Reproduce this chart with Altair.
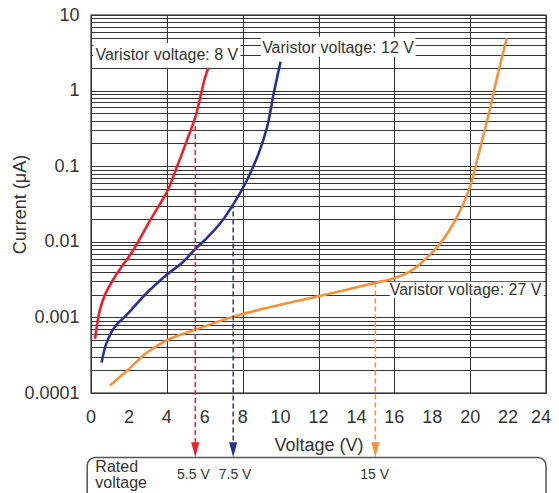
import altair as alt
import pandas as pd

# ---- data ----
red_v = [0.21, 0.47, 0.74, 1.18, 1.62, 2.06, 2.5, 3.13, 4.01, 4.54, 5.07, 5.51, 5.77, 6.03, 6.25]
red_i = [0.00052, 0.00126, 0.0020, 0.0032, 0.0047, 0.0067, 0.0101, 0.0195, 0.046, 0.099, 0.223, 0.453, 0.83, 1.53, 2.18]

blue_v = [0.56, 0.82, 1.27, 1.88, 2.94, 3.99, 4.78, 5.58, 6.03, 6.83, 7.53, 8.15, 8.85, 9.29, 9.64, 10.0]
blue_i = [0.000254, 0.00046, 0.00076, 0.00108, 0.0021, 0.00366, 0.0052, 0.0084, 0.0107, 0.0177, 0.032, 0.060, 0.149, 0.33, 0.92, 2.41]

orange_v = [1.0, 1.97, 2.94, 4.08, 5.58, 7.53, 10.0, 12.0, 14.92, 15.8, 16.86, 17.4, 17.9, 18.44, 19.23, 19.94, 20.46, 20.99, 21.43, 21.93]
orange_i = [0.000126, 0.000204, 0.00034, 0.00051, 0.0007, 0.00103, 0.00147, 0.0019, 0.00284, 0.0032, 0.0041, 0.0052, 0.0068, 0.0096, 0.0195, 0.0486, 0.149, 0.50, 1.53, 4.92]

series_names = ["8 V", "12 V", "27 V"]
series_colors = ["#F0202A", "#2B3090", "#F7923A"]

x_ticks = [0, 2, 4, 6, 8, 10, 12, 14, 16, 18, 20, 22, 24]
x_tick_labels = ["0", "2", "4", "6", "8", "10", "12", "14", "16", "18", "20", "22", "24"]
x_label_y = 4.05e-5
y_decade_labels = ["0.0001", "0.001", "0.01", "0.1", "1", "10"]
y_grid = [round(m * d, 6) for d in [0.0001, 0.001, 0.01, 0.1, 1] for m in range(1, 10)] + [10]

label_text = ["Varistor voltage: 8 V", "Varistor voltage: 12 V", "Varistor voltage: 27 V"]
label_x = [4.0, 13.03, 19.76]
label_y = [2.96, 3.63, 0.00232]
label_box_x1 = [0.12, 8.95, 15.76]
label_box_x2 = [7.88, 17.12, 23.88]
label_box_y1 = [2.0, 2.81, 0.00182]
label_box_y2 = [4.27, 5.17, 0.00296]

rated_v = [5.5, 7.5, 15]
rated_text_x = [5.4, 7.6, 14.96]
rated_text = ["5.5 V", "7.5 V", "15 V"]
rated_start = [0.34, 0.032, 0.0029]
arrow_base = 2.2e-5
arrow_mid = 1.78e-5
rated_box = dict(x=-0.2, x2=24, y=1.40e-5, y2=2.87e-6)
rated_label_y = 7.37e-6
rated_title_y = 9.12e-6

# ---- tables ----
rows = []
for name, vs, cs in zip(series_names, [red_v, blue_v, orange_v], [red_i, blue_i, orange_i]):
    for v, c in zip(vs, cs):
        rows.append({"series": name, "V": v, "I": c})
curves = pd.DataFrame(rows)

xlab = pd.DataFrame({"x": x_ticks, "text": x_tick_labels, "y": [x_label_y] * len(x_ticks)})
xlab_mid = xlab.iloc[:-1]
xlab_last = xlab.iloc[-1:]

labels = pd.DataFrame({"text": label_text, "x": label_x, "y": label_y,
                       "x1": label_box_x1, "x2": label_box_x2,
                       "y1": label_box_y1, "y2": label_box_y2})
arrows = pd.DataFrame({"series": series_names, "V": rated_v, "start": rated_start,
                       "base": [arrow_base] * 3, "mid": [arrow_mid] * 3,
                       "tx": rated_text_x, "text": rated_text, "ty": [rated_label_y] * 3})
box = pd.DataFrame([rated_box])
rated_title = pd.DataFrame({"x": [0.23], "y": [rated_title_y], "text": ["Rated\nvoltage"]})

FONT = "Liberation Sans"
TXT = "#333333"
xs = alt.Scale(domain=[0, 24], nice=False, zero=False)
ys = alt.Scale(type="log", domain=[0.0001, 10], nice=False)
color = alt.Color("series:N", scale=alt.Scale(domain=series_names, range=series_colors), legend=None)

label_expr = "indexof(" + str(y_decade_labels) + ", datum.label) >= 0 ? datum.label : ''"

lines = alt.Chart(curves).mark_line(strokeWidth=2.6, interpolate="catmull-rom").encode(
    x=alt.X("V:Q", scale=xs, axis=alt.Axis(
        values=x_ticks, title="Voltage (V)", grid=True, ticks=False, domain=False,
        labels=False,
        titleFontSize=18, titleColor=TXT, titleFontWeight="normal",
        titleY=57, titleBaseline="alphabetic",
        gridColor="#333333", gridWidth=1)),
    y=alt.Y("I:Q", scale=ys, axis=alt.Axis(
        values=y_grid, format="~g", labelExpr=label_expr, title="Current (μA)",
        grid=True, ticks=False, domain=False, labelOverlap=False, labelBound=False,
        labelFlush=False, labelFontSize=18, labelPadding=12, labelColor=TXT,
        titleFontSize=18, titleColor=TXT, titleFontWeight="normal",
        titleX=-66, titleY=189, titleBaseline="alphabetic", titleAngle=-90,
        gridColor="#333333", gridWidth=1)),
    color=color,
)

xlabels = alt.Chart(xlab_mid).mark_text(
    fontSize=18, font=FONT, color=TXT, align="center", baseline="alphabetic", clip=False).encode(
    x=alt.X("x:Q", scale=xs), y=alt.Y("y:Q", scale=ys), text="text:N")
xlabel_last = alt.Chart(xlab_last).mark_text(
    fontSize=18, font=FONT, color=TXT, align="right", dx=5, baseline="alphabetic", clip=False).encode(
    x=alt.X("x:Q", scale=xs), y=alt.Y("y:Q", scale=ys), text="text:N")

label_boxes = alt.Chart(labels).mark_rect(fill="white", clip=False).encode(
    x=alt.X("x1:Q", scale=xs), x2="x2:Q",
    y=alt.Y("y1:Q", scale=ys), y2="y2:Q")
label_texts = alt.Chart(labels).mark_text(
    fontSize=16, font=FONT, color=TXT, align="center", baseline="middle", clip=False).encode(
    x=alt.X("x:Q", scale=xs), y=alt.Y("y:Q", scale=ys), text="text:N")

rules = alt.Chart(arrows).mark_rule(strokeDash=[5, 3], strokeWidth=1.5, clip=False).encode(
    x=alt.X("V:Q", scale=xs), y=alt.Y("start:Q", scale=ys), y2="base:Q", color=color)
heads = alt.Chart(arrows).mark_point(
    shape="M-0.55,-1L0.55,-1L0,1Z", size=225, filled=True, opacity=1, clip=False).encode(
    x=alt.X("V:Q", scale=xs), y=alt.Y("mid:Q", scale=ys), color=color)

rbox = alt.Chart(box).mark_rect(
    fillOpacity=0, stroke="#555555", strokeWidth=1.5, cornerRadius=8, clip=False).encode(
    x=alt.X("x:Q", scale=xs), x2="x2:Q", y=alt.Y("y:Q", scale=ys), y2="y2:Q")
rtexts = alt.Chart(arrows).mark_text(
    fontSize=14, font=FONT, color=TXT, align="center", baseline="alphabetic", clip=False).encode(
    x=alt.X("tx:Q", scale=xs), y=alt.Y("ty:Q", scale=ys), text="text:N")
rtitle = alt.Chart(rated_title).mark_text(
    fontSize=16, font=FONT, color=TXT, align="left", baseline="alphabetic",
    lineBreak="\n", lineHeight=16, clip=False).encode(
    x=alt.X("x:Q", scale=xs), y=alt.Y("y:Q", scale=ys), text="text:N")

chart = alt.layer(lines, xlabels, xlabel_last, label_boxes, label_texts, rules, heads,
                  rbox, rtexts, rtitle).properties(
    width=455, height=378,
    padding={"left": 83, "top": 7, "right": 5, "bottom": 100},
    autosize=alt.AutoSizeParams(type="none"),
).configure(font=FONT).configure_view(stroke="#666666", strokeWidth=1.5).configure_axis(
    labelFont=FONT, titleFont=FONT)

chart.save("out.html", embed_options={"renderer": "svg", "actions": False})
